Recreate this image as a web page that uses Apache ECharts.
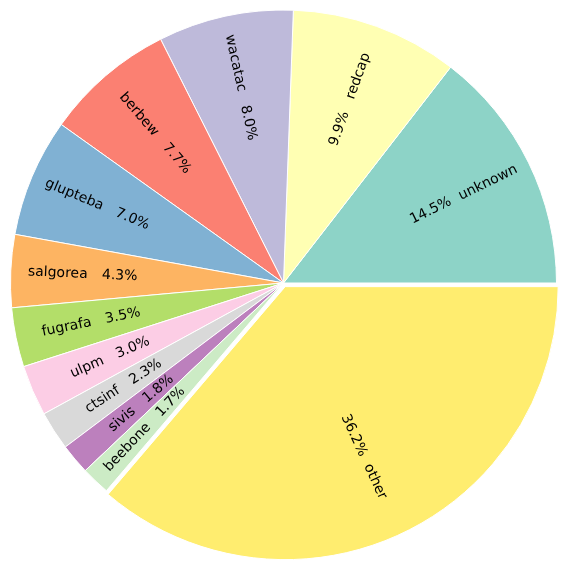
<!DOCTYPE html>
<html><head><meta charset="utf-8">
<script src="https://cdn.jsdelivr.net/npm/echarts@6/dist/echarts.min.js"></script>
<style>html,body{margin:0;padding:0;background:#fff}#c{width:566px;height:566px}</style>
</head><body><div id="c"></div>
<script>
const names = ['unknown','redcap','wacatac','berbew','glupteba','salgorea','fugrafa','ulpm','ctsinf','sivis','beebone','other'];
const values = [14.5, 9.9, 8.0, 7.7, 7.0, 4.3, 3.5, 3.0, 2.3, 1.8, 1.7, 36.2];
const colors = ['#8dd3c7','#ffffb3','#bebada','#fb8072','#80b1d3','#fdb462','#b3de69','#fccde5','#d9d9d9','#bc80bd','#ccebc5','#ffed6f'];
const explodedName = 'other';

const R = 273, CX = 283.5, CY = 283;
const total = values.reduce((a,b)=>a+b,0);
const rightSide = [];
let acc = 0;
values.forEach(v => { const mid = (acc + v/2)/total*2*Math.PI; rightSide.push(Math.cos(mid) >= 0); acc += v; });

const font = {fontFamily:'DejaVu Sans', fontSize:14, color:'#000'};
const mkData = (transparent) => names.map((n,i)=>({
  name:n, value:values[i], selected: n===explodedName,
  itemStyle: transparent ? {color:'rgba(0,0,0,0)', borderWidth:0} : {color:colors[i], borderColor:'#fff', borderWidth:1}
}));
const base = {type:'pie', center:[CX,CY], startAngle:0, clockwise:false, selectedMode:'single', selectedOffset:4,
  animation:false, emphasis:{disabled:true}, labelLine:{show:false}, avoidLabelOverlap:false,
  labelLayout:{hideOverlap:false}};

const option = {
  series:[
    Object.assign({}, base, {radius:[0,R], data:mkData(false), label:{show:false}, z:1}),
    Object.assign({}, base, {radius:[0,322], data:mkData(true), silent:true, z:2,
      label:Object.assign({show:true, position:'inside', rotate:'radial',
        formatter:p=>p.value.toFixed(1)+'%'}, font)}),
    Object.assign({}, base, {radius:[0,386], data:mkData(true), silent:true, z:3,
      label:Object.assign({show:true, position:'inside', rotate:'radial',
        formatter:p=> rightSide[p.dataIndex] ? '{h|'+p.name+'}'+p.name : p.name+'{h|'+p.name+'}',
        rich:{h:Object.assign({}, font, {color:'rgba(0,0,0,0)'})}}, font)})
  ]
};
echarts.init(document.getElementById('c'), null, {renderer:'canvas'}).setOption(option);
</script></body></html>
